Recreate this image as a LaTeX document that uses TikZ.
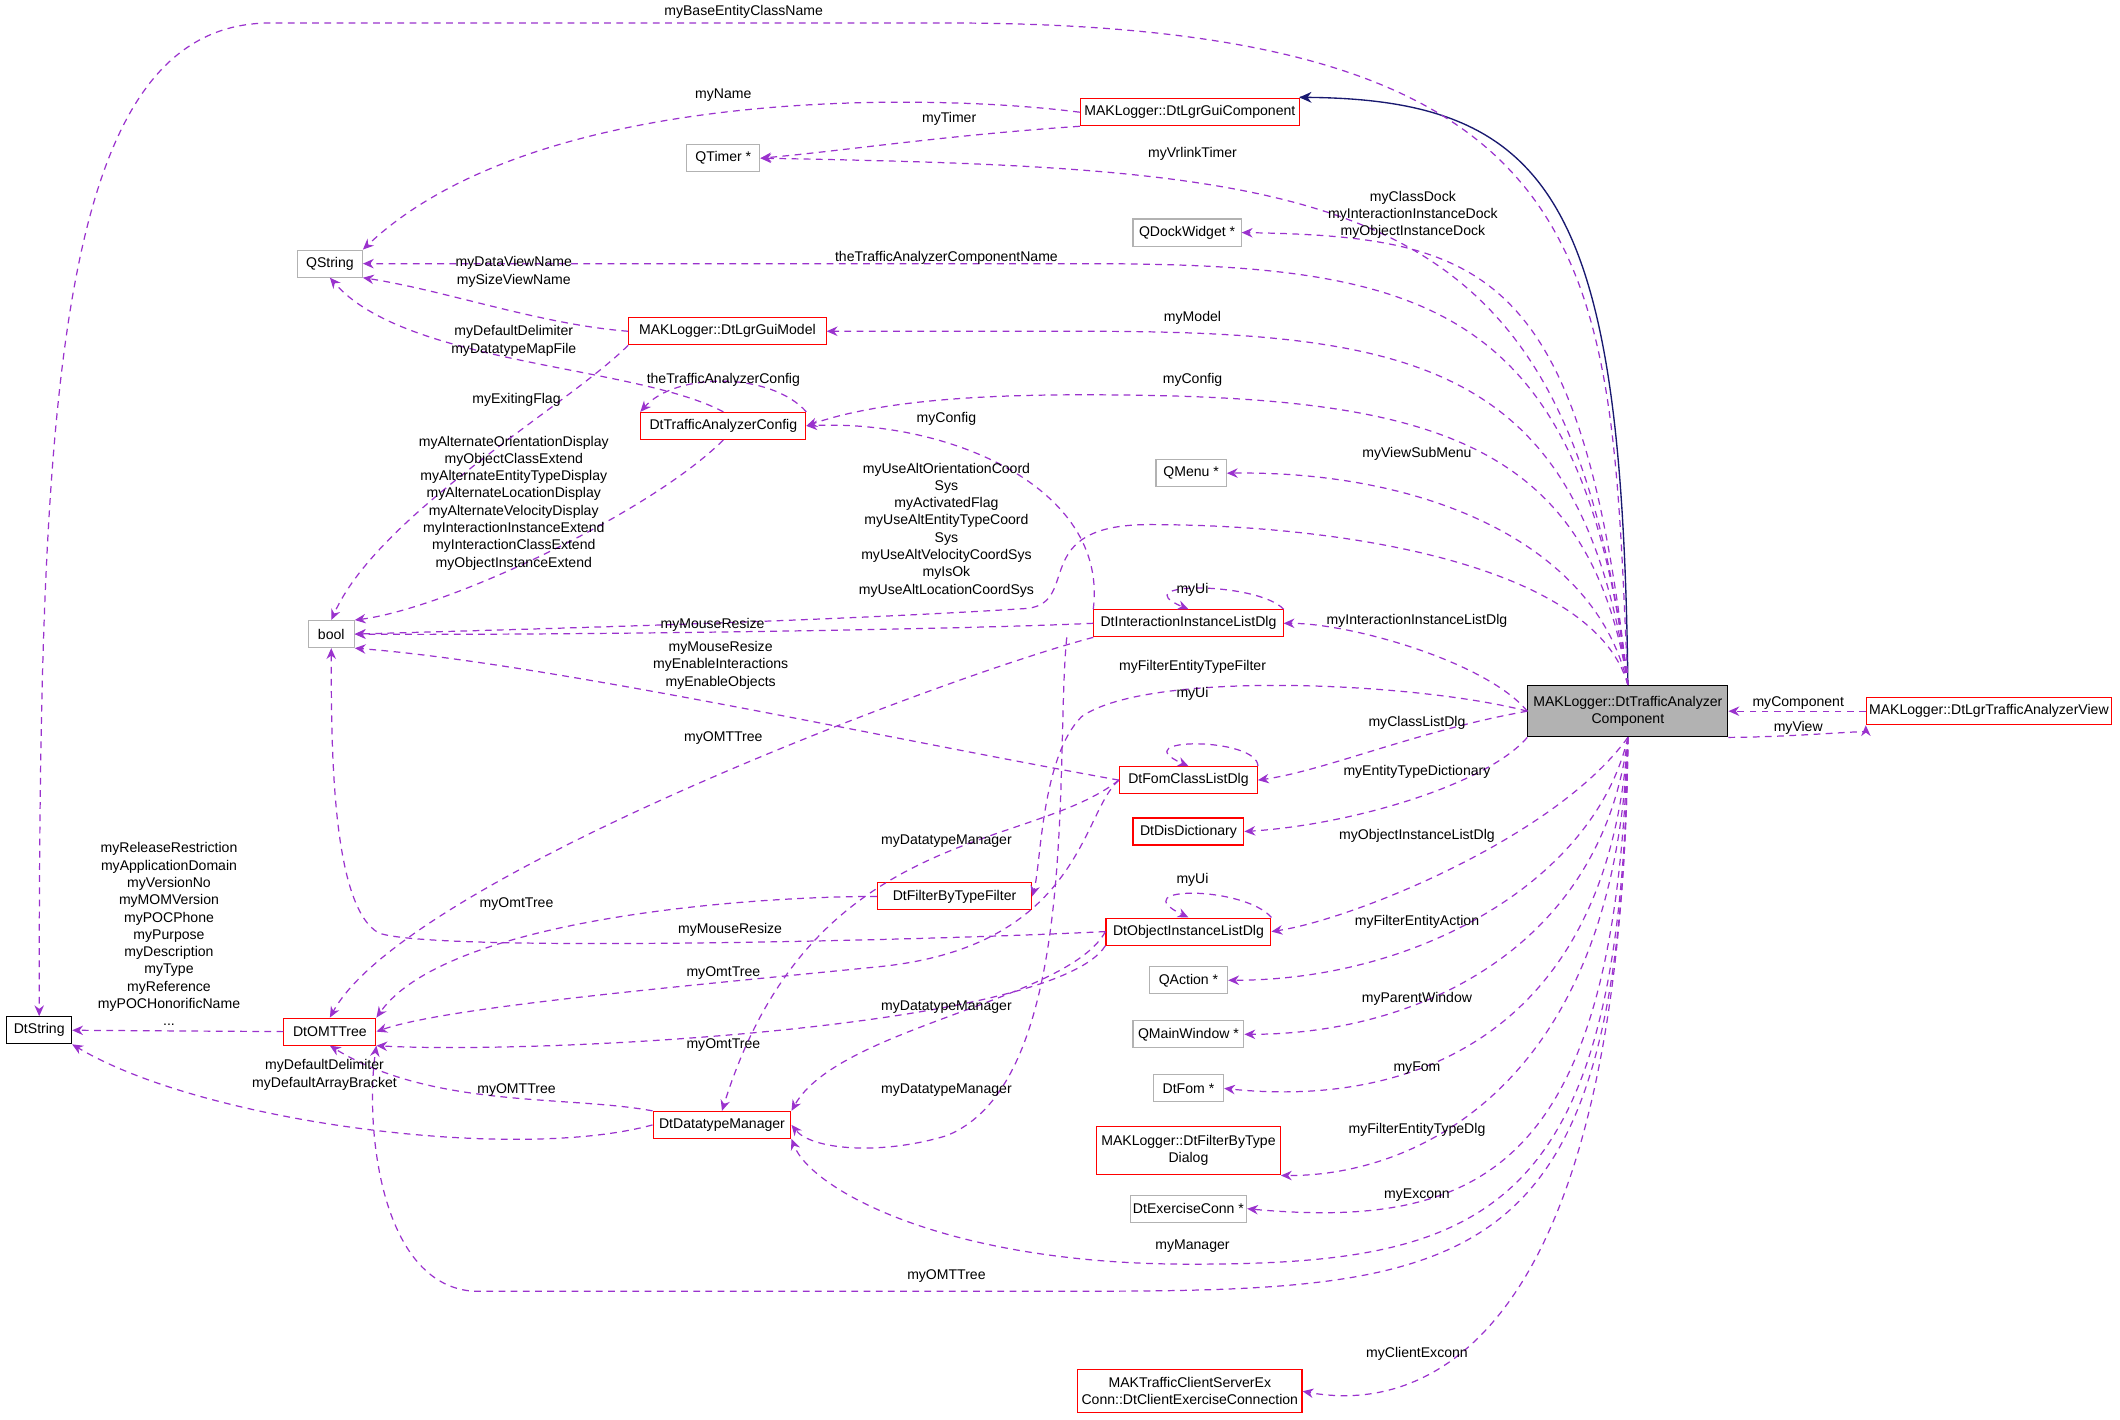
\documentclass[tikz,border=0pt]{standalone}
\usepackage{fontspec}
\setmainfont{Liberation Sans}
\usetikzlibrary{arrows.meta}
\definecolor{pur}{HTML}{9A32CD}
\definecolor{nav}{HTML}{191970}
\begin{document}
\begin{tikzpicture}[x=0.5pt,y=-0.5pt,
  font=\fontsize{5.2}{6.4}\selectfont,
  box/.style={draw=#1,line width=0.4pt,fill=white,minimum height=10pt,inner sep=1pt,align=center},
  box/.default=red,
  gbox/.style={box=black!30},
  rel/.style={pur,dashed,line width=0.45pt,-{Stealth[length=4pt,width=3.5pt]},dash pattern=on 2.5pt off 2pt},
  lb/.style={align=center,inner sep=0pt}]
\useasboundingbox (0,0) rectangle (1568,1050);
% nodes
\node[box=black,minimum width=24pt] (dts) at (29,762) {DtString};
\node[gbox,minimum width=24pt] (qs) at (244,195) {QString};
\node[gbox,minimum width=17pt] (bool) at (245,469) {bool};
\node[gbox,minimum width=27pt] (qt) at (535,117) {QTimer *};
\node[box,minimum width=81pt] (gui) at (880,83) {MAKLogger::DtLgrGuiComponent};
\node[gbox,minimum width=40pt] (qdw) at (878,172) {QDockWidget *};
\node[box,minimum width=73pt] (model) at (538,245) {MAKLogger::DtLgrGuiModel};
\node[box,minimum width=61pt] (cfg) at (535,315) {DtTrafficAnalyzerConfig};
\node[gbox,minimum width=26pt] (qm) at (881,350) {QMenu *};
\node[box,minimum width=70pt] (iil) at (879,461) {DtInteractionInstanceListDlg};
\node[box=black,fill=black!30,minimum width=74pt,minimum height=19pt] (c) at (1204,526) {MAKLogger::DtTrafficAnalyzer\\Component};
\node[box,minimum width=90pt] (view) at (1471,526) {MAKLogger::DtLgrTrafficAnalyzerView};
\node[box,minimum width=51pt] (fcl) at (879,577) {DtFomClassListDlg};
\node[box,minimum width=41pt] (dis) at (879,615) {DtDisDictionary};
\node[box,minimum width=57pt] (flt) at (706,663) {DtFilterByTypeFilter};
\node[box,minimum width=61pt] (oil) at (879,689) {DtObjectInstanceListDlg};
\node[gbox,minimum width=29pt] (qa) at (879,725) {QAction *};
\node[gbox,minimum width=41pt] (qmw) at (879,765) {QMainWindow *};
\node[gbox,minimum width=26pt] (fom) at (879,805) {DtFom *};
\node[box,minimum width=68pt,minimum height=18pt] (fdlg) at (879,851) {MAKLogger::DtFilterByType\\Dialog};
\node[gbox,minimum width=43pt] (exc) at (879,894) {DtExerciseConn *};
\node[box,minimum width=34pt] (omt) at (244,763) {DtOMTTree};
\node[box,minimum width=51pt] (dm) at (534,832) {DtDatatypeManager};
\node[box,minimum width=83pt,minimum height=16pt] (cec) at (880,1029) {MAKTrafficClientServerEx\\Conn::DtClientExerciseConnection};
% inheritance
\draw[nav,line width=0.5pt,-{Stealth[length=4.5pt,width=4pt]}] (c.north) .. controls (1200,150) and (1150,72) .. (gui.east|-0,72) -- (961,72);
% edges
\draw[rel] (c.north) .. controls (1190,200) and (1200,17) .. (700,17) -- (200,17) .. controls (40,17) and (29,300) .. (dts.north);
\node[lb] (l1) at (550,9) {myBaseEntityClassName};
\draw[rel] (gui.west) .. controls (700,70) and (400,60) .. (qs.north east);
\node[lb] (l2) at (535,70) {myName};
\draw[rel] (gui.south west) .. controls (700,100) and (620,112) .. (qt.east);
\node[lb] (l3) at (702,88) {myTimer};
\draw[rel] (c.north) .. controls (1160,140) and (1000,125) .. (qt.east);
\node[lb] (l4) at (882,114) {myVrlinkTimer};
\draw[rel] (c.north) .. controls (1170,200) and (1100,175) .. (qdw.east);
\node[lb] (l5) at (1045,159) {myClassDock\\myInteractionInstanceDock\\myObjectInstanceDock};
\draw[rel] (c.north) .. controls (1170,220) and (1050,195) .. (800,195) -- (qs.east);
\node[lb] (l6) at (700,191) {theTrafficAnalyzerComponentName};
\draw[rel] (model.west) .. controls (400,240) and (330,215) .. (qs.south east);
\node[lb] (l7) at (380,201) {myDataViewName\\mySizeViewName};
\draw[rel] (cfg.north) .. controls (470,270) and (300,270) .. (qs.south);
\node[lb] (l8) at (380,252) {myDefaultDelimiter\\myDatatypeMapFile};
\draw[rel] (c.north) .. controls (1170,270) and (1050,245) .. (800,245) -- (model.east);
\node[lb] (l9) at (882,235) {myModel};
\draw[rel] (model.south west) .. controls (420,300) and (280,380) .. (bool.north);
\node[lb] (l10) at (382,296) {myExitingFlag};
\draw[rel] (cfg.north east) .. controls (570,275) and (500,275) .. (cfg.north west);
\node[lb] (l11) at (535,281) {theTrafficAnalyzerConfig};
\draw[rel] (c.north) .. controls (1175,320) and (1050,292) .. (800,292) .. controls (700,292) and (640,300) .. (cfg.east);
\node[lb] (l12) at (882,281) {myConfig};
\draw[rel] (cfg.south) .. controls (480,380) and (330,450) .. (bool.north east);
\node[lb] (l13) at (380,372) {myAlternateOrientationDisplay\\myObjectClassExtend\\myAlternateEntityTypeDisplay\\myAlternateLocationDisplay\\myAlternateVelocityDisplay\\myInteractionInstanceExtend\\myInteractionClassExtend\\myObjectInstanceExtend};
\draw[rel] (iil.north west) .. controls (820,360) and (700,310) .. (cfg.east);
\node[lb] (l14) at (700,310) {myConfig};
\draw[rel] (c.north) .. controls (1180,400) and (1050,348) .. (qm.east);
\node[lb] (l15) at (1048,336) {myViewSubMenu};
\draw[rel] (c.north) .. controls (1180,420) and (1000,388) .. (850,388) .. controls (760,388) and (800,445) .. (760,450) .. controls (600,460) and (400,465) .. (bool.east);
\node[lb] (l16) at (700,392) {myUseAltOrientationCoord\\Sys\\myActivatedFlag\\myUseAltEntityTypeCoord\\Sys\\myUseAltVelocityCoordSys\\myIsOk\\myUseAltLocationCoordSys};
\draw[rel] (iil.north east) .. controls (930,430) and (830,430) .. (iil.north);
\node[lb] (l17) at (882,436) {myUi};
\draw[rel] (iil.west) .. controls (700,466) and (400,470) .. (bool.east);
\node[lb] (l18) at (527,462) {myMouseResize};
\draw[rel] (c.west) .. controls (1100,490) and (1000,461) .. (iil.east);
\node[lb] (l19) at (1048,459) {myInteractionInstanceListDlg};
\draw[rel] (fcl.west) .. controls (650,545) and (400,490) .. (bool.south east);
\node[lb] (l20) at (533,492) {myMouseResize\\myEnableInteractions\\myEnableObjects};
\draw[rel] (iil.south west) .. controls (700,500) and (300,650) .. (omt.north);
\node[lb] (l21) at (535,546) {myOMTTree};
\draw[rel] (c.west) .. controls (1050,505) and (850,495) .. (800,530) .. controls (770,560) and (770,640) .. (flt.east);
\node[lb] (l22) at (882,493) {myFilterEntityTypeFilter};
\draw[rel] (fcl.north east) .. controls (930,545) and (830,545) .. (fcl.north);
\node[lb] (l23) at (882,513) {myUi};
\draw[rel] (c.west) .. controls (1050,540) and (980,570) .. (fcl.east);
\node[lb] (l24) at (1048,535) {myClassListDlg};
\draw[rel] (fcl.west) .. controls (760,630) and (600,610) .. (dm.north);
\node[lb] (l25) at (700,622) {myDatatypeManager};
\draw[rel] (iil.south) ++(-90,0) .. controls (780,560) and (800,800) .. (700,840) .. controls (650,855) and (600,850) .. (dm.east);
\node[lb] (l25b) at (700,806) {myDatatypeManager};
\draw[rel] (c.south west) .. controls (1100,580) and (1000,610) .. (dis.east);
\node[lb] (l26) at (1048,571) {myEntityTypeDictionary};
\draw[rel] (flt.west) .. controls (550,663) and (330,680) .. (omt.north east);
\node[lb] (l27) at (382,669) {myOmtTree};
\draw[rel] (oil.north east) .. controls (920,655) and (830,655) .. (oil.north);
\node[lb] (l28) at (882,651) {myUi};
\draw[rel] (c.south) .. controls (1150,620) and (1000,680) .. (oil.east);
\node[lb] (l29) at (1048,618) {myObjectInstanceListDlg};
\draw[rel] (oil.west) .. controls (700,695) and (320,705) .. (280,690) .. controls (245,670) and (245,550) .. (bool.south);
\node[lb] (l30) at (540,688) {myMouseResize};
\draw[rel] (fcl.west) .. controls (800,600) and (800,700) .. (650,715) .. controls (500,730) and (330,745) .. (omt.east);
\node[lb] (l31) at (535,720) {myOmtTree};
\draw[rel] (oil.south west) .. controls (780,760) and (400,780) .. (omt.south east);
\node[lb] (l32) at (535,773) {myOmtTree};
\draw[rel] (oil.west) .. controls (790,740) and (620,760) .. (dm.north east);
\node[lb] (l32b) at (700,745) {myDatatypeManager};
\draw[rel] (c.south) .. controls (1180,650) and (1050,725) .. (qa.east);
\node[lb] (l33) at (1048,682) {myFilterEntityAction};
\draw[rel] (c.south) .. controls (1185,700) and (1050,765) .. (qmw.east);
\node[lb] (l34) at (1048,739) {myParentWindow};
\draw[rel] (c.south) .. controls (1190,760) and (1050,820) .. (fom.east);
\node[lb] (l35) at (1048,790) {myFom};
\draw[rel] (c.south) .. controls (1195,800) and (1050,870) .. (fdlg.south east);
\node[lb] (l36) at (1048,836) {myFilterEntityTypeDlg};
\draw[rel] (c.south) .. controls (1195,860) and (1100,910) .. (exc.east);
\node[lb] (l37) at (1048,884) {myExconn};
\draw[rel] (c.south) .. controls (1200,900) and (1100,935) .. (880,935) .. controls (700,935) and (600,880) .. (dm.south east);
\node[lb] (l38) at (882,922) {myManager};
\draw[rel] (c.south) .. controls (1200,940) and (1100,955) .. (800,955) -- (350,955) .. controls (280,950) and (270,830) .. (omt.south east);
\node[lb] (l39) at (700,944) {myOMTTree};
\draw[rel] (c.south) .. controls (1200,1000) and (1050,1045) .. (cec.east);
\node[lb] (l40) at (1048,1001) {myClientExconn};
\draw[rel] (omt.west) -- (dts.east);
\node[lb] (l41) at (125,691) {myReleaseRestriction\\myApplicationDomain\\myVersionNo\\myMOMVersion\\myPOCPhone\\myPurpose\\myDescription\\myType\\myReference\\myPOCHonorificName\\...};
\draw[rel] (dm.north west) .. controls (420,810) and (320,820) .. (omt.south);
\node[lb] (l42) at (382,806) {myOMTTree};
\draw[rel] (dm.west) .. controls (380,860) and (150,830) .. (dts.south east);
\node[lb] (l43) at (240,795) {myDefaultDelimiter\\myDefaultArrayBracket};
\draw[rel] (view.west) -- (c.east);
\node[lb] (l44) at (1330,520) {myComponent};
\draw[rel] (c.south east) .. controls (1330,545) and (1380,540) .. (view.south west);
\node[lb] (l45) at (1330,538) {myView};
\end{tikzpicture}
\end{document}
